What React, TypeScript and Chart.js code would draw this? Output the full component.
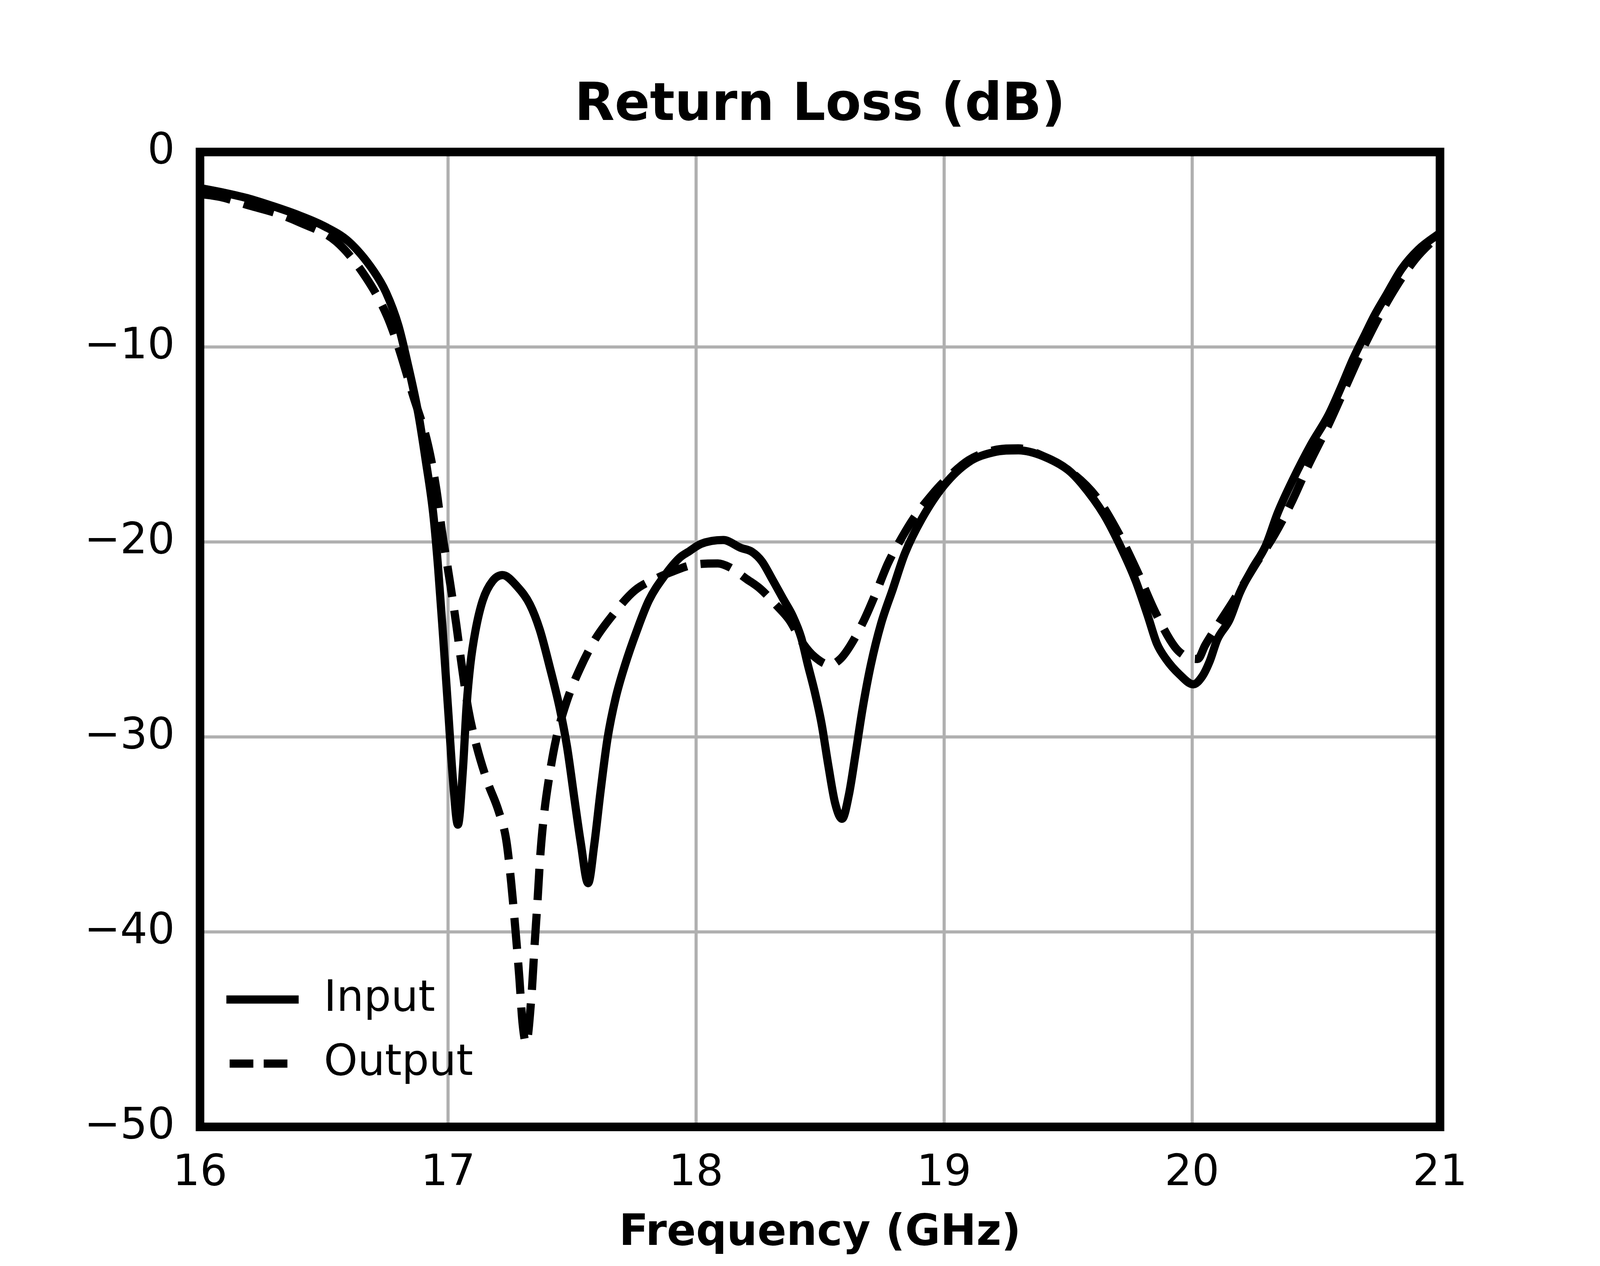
import React, { useEffect, useRef } from 'react';
import { Chart, registerables } from 'chart.js';

Chart.register(...registerables);

// Input return loss (GHz / dB)
const inputFreq = [
  16.0, 16.1, 16.2, 16.3, 16.4, 16.5, 16.6, 16.7, 16.75, 16.8,
  16.84, 16.88, 16.91, 16.94, 16.96, 16.98, 17.0, 17.02, 17.04, 17.06,
  17.075, 17.09, 17.11, 17.14, 17.18, 17.22, 17.28, 17.33, 17.37, 17.41,
  17.45, 17.48, 17.51, 17.535, 17.565, 17.59, 17.615, 17.643, 17.676, 17.714,
  17.76, 17.81, 17.875, 17.935, 17.97, 18.02, 18.11, 18.18, 18.225, 18.266,
  18.307, 18.355, 18.39, 18.424, 18.451, 18.479, 18.506, 18.534, 18.561, 18.589,
  18.616, 18.643, 18.671, 18.705, 18.746, 18.794, 18.842, 18.911, 19.0, 19.1,
  19.2, 19.3, 19.4, 19.5, 19.554, 19.645, 19.718, 19.773, 19.822, 19.858,
  19.895, 19.95, 20.005, 20.041, 20.072, 20.102, 20.151, 20.193, 20.242, 20.297,
  20.346, 20.407, 20.48, 20.55, 20.6, 20.65, 20.7, 20.735, 20.785, 20.845,
  20.913, 21.0,
];
const inputLoss = [
  -1.85, -2.1, -2.4, -2.8, -3.25, -3.8, -4.6, -6.1, -7.2, -8.9,
  -11.0, -13.4, -15.8, -18.5, -21.3, -24.8, -28.5, -32.2, -34.5, -31.7,
  -28.4, -26.3, -24.6, -23.0, -22.0, -21.7, -22.3, -23.2, -24.5, -26.4,
  -28.5, -30.5, -33.2, -35.4, -37.5, -35.5, -32.8, -30.1, -28.0, -26.3,
  -24.6, -23.0, -21.7, -20.8, -20.5, -20.1, -19.9, -20.3, -20.5, -21.0,
  -21.9, -23.0, -23.8, -24.9, -26.3, -27.7, -29.3, -31.5, -33.4, -34.2,
  -33.0, -30.9, -28.6, -26.3, -24.2, -22.4, -20.6, -18.8, -17.1, -15.9,
  -15.4, -15.3, -15.6, -16.3, -17.0, -18.6, -20.4, -22.0, -23.8, -25.2,
  -26.0, -26.8, -27.3, -26.9, -26.1, -25.0, -24.0, -22.6, -21.4, -20.2,
  -18.5, -16.8, -15.0, -13.5, -12.1, -10.6, -9.3, -8.4, -7.3, -6.0,
  -5.0, -4.15,
];

// Output return loss
const outputFreq = [
  16.0, 16.08, 16.2, 16.31, 16.4, 16.55, 16.67, 16.754, 16.8, 16.857,
  16.919, 16.953, 16.975, 17.006, 17.033, 17.055, 17.082, 17.116, 17.159, 17.204,
  17.235, 17.255, 17.272, 17.288, 17.3, 17.315, 17.337, 17.349, 17.361, 17.372,
  17.387, 17.41, 17.436, 17.478, 17.532, 17.593, 17.661, 17.752, 17.852, 17.909,
  17.978, 18.088, 18.136, 18.204, 18.259, 18.328, 18.376, 18.431, 18.479, 18.54,
  18.582, 18.623, 18.678, 18.726, 18.774, 18.829, 18.877, 18.95, 19.0, 19.1,
  19.2, 19.3, 19.4, 19.5, 19.615, 19.706, 19.779, 19.852, 19.932, 19.98,
  20.023, 20.053, 20.102, 20.163, 20.254, 20.334, 20.4, 20.468, 20.55, 20.6,
  20.7, 20.8, 20.9, 21.0,
];
const outputLoss = [
  -2.15, -2.3, -2.75, -3.15, -3.6, -4.6, -6.45, -8.4, -10.0, -12.4,
  -15.0, -17.3, -19.4, -21.9, -24.2, -26.3, -28.6, -30.5, -32.3, -33.8,
  -35.3, -37.5, -39.9, -42.4, -44.6, -45.7, -43.2, -40.7, -38.4, -36.1,
  -34.0, -31.9, -30.1, -28.2, -26.5, -25.0, -23.8, -22.5, -21.8, -21.5,
  -21.2, -21.1, -21.3, -21.9, -22.4, -23.3, -24.0, -25.2, -25.9, -26.3,
  -26.0, -25.3, -24.0, -22.6, -21.1, -19.8, -18.8, -17.6, -16.9, -15.8,
  -15.3, -15.2, -15.6, -16.3, -17.7, -19.6, -21.5, -23.6, -25.4, -25.9,
  -26.0, -25.3, -24.3, -23.1, -21.2, -19.6, -18.0, -16.1, -14.0, -12.6,
  -9.8, -7.4, -5.5, -4.2,
];

const seriesNames = ['Input', 'Output'];
const FONT = 'DejaVu Sans';

// layout of the original figure, scaled to whatever window we get
const BASE_W = 5400;
const BASE_H = 3240;

const toPoints = (xs: number[], ys: number[]) =>
  xs.slice(0, Math.min(xs.length, ys.length)).map((x, i) => ({ x, y: ys[i] }));

// black frame around the plot area
const framePlugin = {
  id: 'frame',
  afterDatasetsDraw(chart: Chart) {
    const { ctx, chartArea } = chart;
    ctx.save();
    ctx.strokeStyle = '#000';
    ctx.lineWidth = 22;
    ctx.lineJoin = 'miter';
    ctx.strokeRect(chartArea.left, chartArea.top, chartArea.right - chartArea.left, chartArea.bottom - chartArea.top);
    ctx.restore();
  },
};

const makeLegend = (sx: number, sy: number) => ({
  id: 'innerLegend',
  afterDraw(chart: Chart) {
    const { ctx, chartArea } = chart;
    const rows = [chartArea.bottom - 326 * sy, chartArea.bottom - 162 * sy];
    ctx.save();
    chart.data.datasets.forEach((ds: any, i: number) => {
      const y = rows[i];
      const dash = ds.borderDash ? ds.borderDash.map((d: number) => d * sx) : [];
      // dashed handle shows exactly two dashes, like the original
      const x0 = chartArea.left + (ds.borderDash ? 100 : 89) * sx;
      const x1 = ds.borderDash ? x0 + dash[0] * 2 + dash[1] : chartArea.left + 333 * sx;
      ctx.strokeStyle = '#000';
      ctx.lineWidth = 21;
      ctx.lineCap = 'butt';
      ctx.setLineDash(dash);
      ctx.beginPath();
      ctx.moveTo(x0, y);
      ctx.lineTo(x1, y);
      ctx.stroke();
      ctx.setLineDash([]);
      ctx.fillStyle = '#000';
      ctx.font = `${Math.round(110 * sy)}px "${FONT}"`;
      ctx.textAlign = 'left';
      ctx.textBaseline = 'middle';
      ctx.fillText(ds.label, chartArea.left + 418 * sx, y);
    });
    ctx.restore();
  },
});

const App: React.FC = () => {
  const canvasRef = useRef<HTMLCanvasElement>(null);
  const chartRef = useRef<Chart | null>(null);

  useEffect(() => {
    const canvas = canvasRef.current;
    if (!canvas) return;
    if (chartRef.current) chartRef.current.destroy();

    const W = window.innerWidth || BASE_W;
    const H = window.innerHeight || BASE_H;
    canvas.width = W;
    canvas.height = H;
    canvas.style.width = `${W}px`;
    canvas.style.height = `${H}px`;
    const sx = W / BASE_W;
    const sy = H / BASE_H;
    const fs = (n: number) => Math.round(n * sy);

    chartRef.current = new Chart(canvas, {
      type: 'line',
      data: {
        datasets: [
          {
            label: seriesNames[0],
            data: toPoints(inputFreq, inputLoss),
            borderColor: '#000',
            borderWidth: 21,
            pointRadius: 0,
            borderJoinStyle: 'round',
            cubicInterpolationMode: 'monotone',
            fill: false,
          },
          {
            label: seriesNames[1],
            data: toPoints(outputFreq, outputLoss),
            borderColor: '#000',
            borderWidth: 21,
            borderDash: [80, 35],
            pointRadius: 0,
            borderJoinStyle: 'round',
            cubicInterpolationMode: 'monotone',
            fill: false,
          },
        ],
      },
      options: {
        responsive: false,
        devicePixelRatio: 1,
        animation: false,
        layout: { padding: { left: 0, right: 540 * sx, top: 0, bottom: 0 } },
        scales: {
          x: {
            type: 'linear',
            min: 16,
            max: 21,
            afterFit: (scale: any) => { scale.height = 356 * sy; },
            ticks: {
              stepSize: 1,
              padding: 54 * sy,
              color: '#000',
              font: { family: FONT, size: fs(110) },
            },
            grid: { color: '#b0b0b0', lineWidth: 8, drawTicks: false },
            border: { display: false },
            title: {
              display: true,
              text: 'Frequency (GHz)',
              color: '#000',
              font: { family: FONT, size: fs(110), weight: 'bold' },
              padding: { top: 0, bottom: 17 * sy },
            },
          },
          y: {
            type: 'linear',
            min: -50,
            max: 0,
            afterFit: (scale: any) => { scale.width = 675 * sx; },
            ticks: {
              stepSize: 10,
              padding: 85 * sx,
              color: '#000',
              font: { family: FONT, size: fs(110) },
              callback: (v: any) => String(v).replace('-', '\u2212'),
            },
            grid: { color: '#b0b0b0', lineWidth: 8, drawTicks: false },
            border: { display: false },
          },
        },
        plugins: {
          legend: { display: false },
          tooltip: { enabled: false },
          title: {
            display: true,
            text: 'Return Loss (dB)',
            fullSize: false,
            color: '#000',
            font: { family: FONT, size: fs(133), weight: 'bold' },
            padding: { top: 193 * sy, bottom: 36.4 * sy },
          },
        },
      } as any,
      plugins: [framePlugin, makeLegend(sx, sy)],
    });

    return () => {
      if (chartRef.current) {
        chartRef.current.destroy();
        chartRef.current = null;
      }
    };
  }, []);

  return (
    <div style={{ position: 'fixed', left: 0, top: 0, width: '100vw', height: '100vh', background: '#fff' }}>
      <canvas ref={canvasRef} style={{ display: 'block' }} />
    </div>
  );
};

export default App;
